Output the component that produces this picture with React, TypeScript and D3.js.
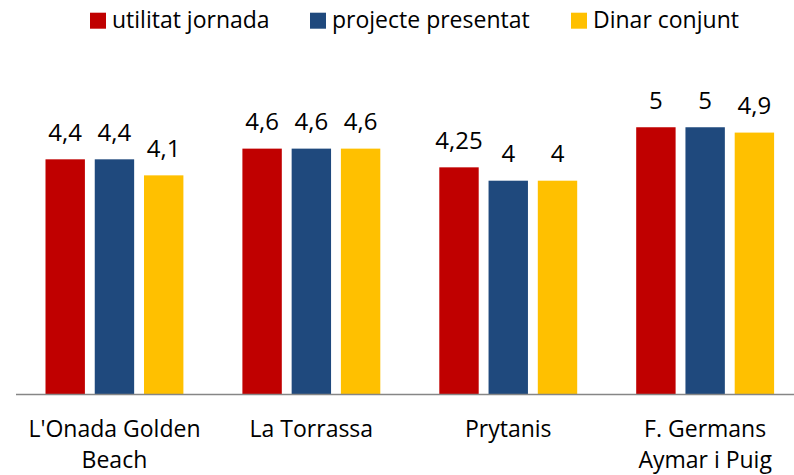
import React from "react";
import * as d3 from "d3";

const categories: string[][] = [
  ["L'Onada Golden", "Beach"],
  ["La Torrassa"],
  ["Prytanis"],
  ["F. Germans", "Aymar i Puig"],
];
const seriesNames = ["utilitat jornada", "projecte presentat", "Dinar conjunt"];
const seriesColors = ["#C00000", "#1F497D", "#FFC000"];
const utilitat = [4.4, 4.6, 4.25, 5];
const projecte = [4.4, 4.6, 4, 5];
const dinar = [4.1, 4.6, 4, 4.9];
const valueLabels = [
  ["4,4", "4,6", "4,25", "5"],
  ["4,4", "4,6", "4", "5"],
  ["4,1", "4,6", "4", "4,9"],
];

const W = 794;
const H = 475;
const FONT = "'Open Sans', sans-serif";

export default function App() {
  const series = [utilitat, projecte, dinar];
  const x0 = d3
    .scaleBand<number>()
    .domain(d3.range(categories.length))
    .range([16, 16 + 4 * 196.9])
    .paddingInner(0)
    .paddingOuter(0);
  const x1 = d3
    .scaleBand<number>()
    .domain([0, 1, 2])
    .range([29.5, x0.bandwidth() - 29.5])
    .paddingInner(0.2)
    .paddingOuter(0);
  const y = d3.scaleLinear().domain([0, 6]).range([394.5, 394.5 - 6 * 53.45]);

  const legendX = [90, 310, 571];

  return (
    <svg
      width={W}
      height={H}
      style={{ position: "absolute", left: 0, top: 0, background: "#fff" }}
      fontFamily={FONT}
    >
      {/* legend */}
      {seriesNames.map((name, i) => (
        <g key={name}>
          <rect x={legendX[i]} y={12.7} width={16} height={16} fill={seriesColors[i]} />
          <text x={legendX[i] + 22} y={28} fontSize={23} fill="#000">
            {name}
          </text>
        </g>
      ))}
      {/* bars */}
      {categories.map((_, ci) => (
        <g key={ci} transform={`translate(${x0(ci)},0)`}>
          {series.map((s, si) => (
            <g key={si}>
              <rect
                x={x1(si)}
                y={y(s[ci])}
                width={x1.bandwidth()}
                height={y(0) - y(s[ci])}
                fill={seriesColors[si]}
              />
              <text
                x={(x1(si) as number) + x1.bandwidth() / 2}
                y={y(s[ci]) - 18.6}
                textAnchor="middle"
                fontSize={24}
                fill="#000"
              >
                {valueLabels[si][ci]}
              </text>
            </g>
          ))}
        </g>
      ))}
      {/* axis */}
      <line x1={16} x2={W} y1={394.5} y2={394.5} stroke="#868686" strokeWidth={1.5} />
      {categories.map((lines, ci) => (
        <text
          key={ci}
          x={(x0(ci) as number) + x0.bandwidth() / 2}
          textAnchor="middle"
          fontSize={23}
          fill="#000"
        >
          {lines.map((l, li) => (
            <tspan key={li} x={(x0(ci) as number) + x0.bandwidth() / 2} y={437 + li * 31}>
              {l}
            </tspan>
          ))}
        </text>
      ))}
    </svg>
  );
}
